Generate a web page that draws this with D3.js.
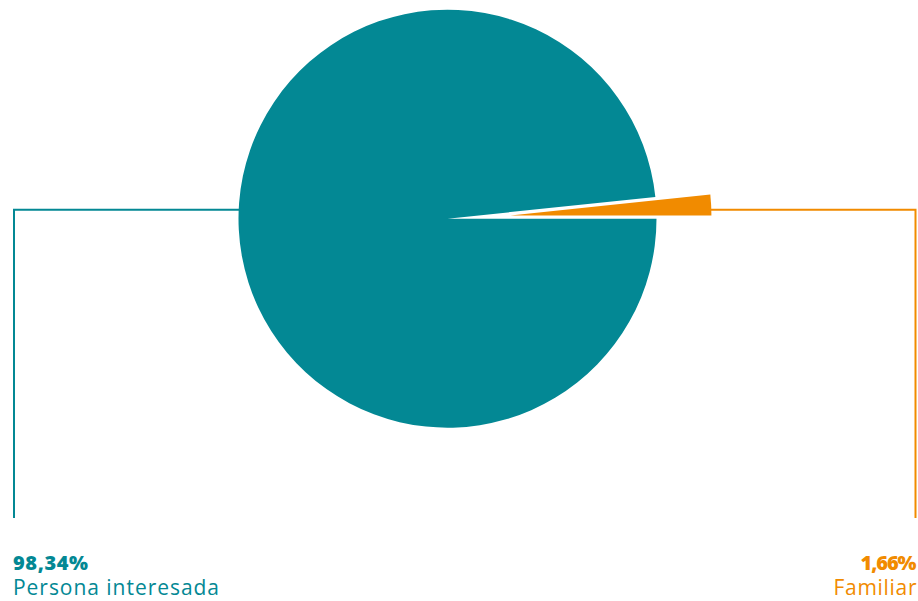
<!DOCTYPE html>
<html><head><meta charset="utf-8">
<script src="https://cdn.jsdelivr.net/npm/d3@7"></script>
<style>body{margin:0;background:#fff;}svg{display:block;}</style>
</head><body>
<svg id="c" width="918" height="601"></svg>
<script>
const categories = ["Persona interesada", "Familiar"];
const values = [98.34, 1.66];
const valueLabels = ["98,34%", "1,66%"];
const colors = ["#038894", "#f18b00"];

const svg = d3.select("#c");
const cx = 447.5, cy = 218.7, R = 209;
const pie = d3.pie().sort(null).value(d => d)
  .startAngle(Math.PI / 2).endAngle(Math.PI / 2 + 2 * Math.PI);
const arcs = pie(values);
const arcMain = d3.arc().innerRadius(0).outerRadius(R);
const arcSmall = d3.arc().innerRadius(0).outerRadius(201);
const g = svg.append("g").attr("transform", `translate(${cx},${cy})`);

arcs.forEach((a, i) => {
  if (i === 0) {
    g.append("path").attr("d", arcMain(a)).attr("fill", colors[i]);
  } else {
    const mid = (a.startAngle + a.endAngle) / 2;
    const off = 63;
    const dx = Math.sin(mid) * off, dy = -Math.cos(mid) * off;
    g.append("path").attr("d", arcSmall(a)).attr("fill", colors[i])
      .attr("transform", `translate(${dx},${dy})`);
  }
});

// leader lines
const lineY = 209.8, bottomY = 518;
svg.append("path")
  .attr("d", `M${cx - R + 1},${lineY} H14 V${bottomY}`)
  .attr("fill", "none").attr("stroke", colors[0]).attr("stroke-width", 2);
svg.append("path")
  .attr("d", `M711,${lineY} H915.5 V${bottomY}`)
  .attr("fill", "none").attr("stroke", colors[1]).attr("stroke-width", 2);

const font = "'Open Sans', sans-serif";
function label(x, y, txt, color, bold, size, len, anchor) {
  svg.append("text").attr("x", x).attr("y", y).text(txt)
    .attr("fill", color).attr("font-family", font)
    .attr("font-weight", bold ? 800 : 400).attr("font-size", size)
    .attr("text-anchor", anchor)
    .attr("textLength", len).attr("lengthAdjust", "spacing");
}
label(13, 569.5, valueLabels[0], colors[0], true, 20, 75, "start");
label(13, 595, categories[0], colors[0], false, 21, 206, "start");
label(916.5, 569.5, valueLabels[1], colors[1], true, 20, 56, "end");
label(916.5, 595, categories[1], colors[1], false, 21, 83, "end");
</script>
</body></html>
